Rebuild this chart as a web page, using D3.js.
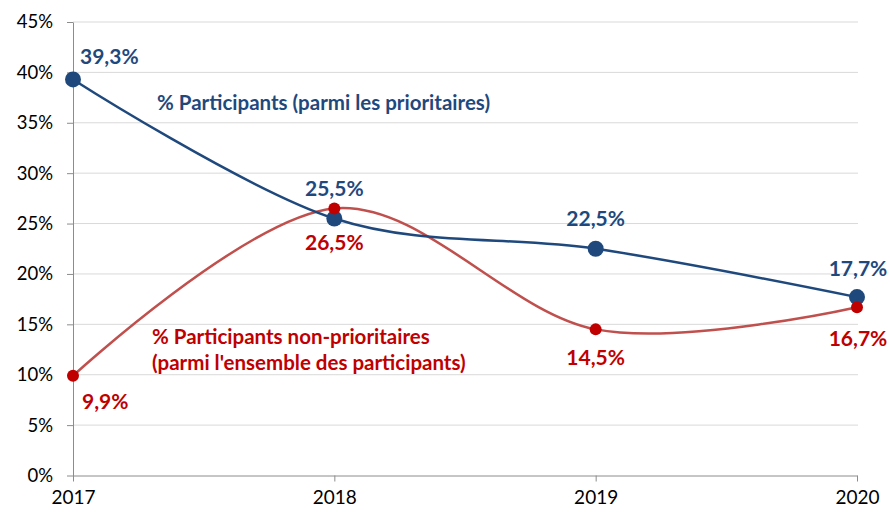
<!DOCTYPE html>
<html><head><meta charset="utf-8">
<script src="https://cdn.jsdelivr.net/npm/d3@7"></script>
<style>body{margin:0;background:#fff}svg{display:block}text{font-family:Lato,"Open Sans",sans-serif}</style>
</head><body><svg id="c" width="890" height="513"></svg>
<script>
const years = ["2017","2018","2019","2020"];
const prioritaires = [39.3, 25.5, 22.5, 17.7];
const nonPrioritaires = [9.9, 26.5, 14.5, 16.7];
const yTicks = [0,5,10,15,20,25,30,35,40,45];
const fmt = v => v.toFixed(1).replace(".", ",") + "%";

const svg = d3.select("#c");
const x = d3.scalePoint().domain(years).range([73, 857]);
const y = d3.scaleLinear().domain([0, 45]).range([475.5, 22]);

// gridlines
svg.append("g").selectAll("line").data(yTicks.filter(t=>t>0)).join("line")
  .attr("x1", 73).attr("x2", 858).attr("y1", d=>y(d)).attr("y2", d=>y(d))
  .attr("stroke", "#d9d9d9").attr("stroke-width", 1);

const yAxis = svg.append("g").attr("transform","translate(73,0)")
  .call(d3.axisLeft(y).tickValues(yTicks).tickFormat(d=>d+"%").tickSize(6).tickSizeOuter(0));
yAxis.select(".domain").attr("stroke","#8c8c8c");
yAxis.selectAll(".tick line").attr("stroke","#8c8c8c");
yAxis.selectAll(".tick text").attr("font-size","18.5px").attr("fill","#000").attr("x",-20);

const xAxis = svg.append("g").attr("transform","translate(0,475.5)")
  .call(d3.axisBottom(x).tickSize(6).tickSizeOuter(0));
xAxis.select(".domain").attr("stroke","#8c8c8c");
xAxis.selectAll(".tick line").attr("stroke","#8c8c8c");
xAxis.selectAll(".tick text").attr("font-size","19px").attr("fill","#000").attr("dy","1.05em");

const line = d3.line().x((d,i)=>x(years[i])).y(d=>y(d)).curve(d3.curveCardinal.tension(0));

svg.append("path").datum(nonPrioritaires).attr("d", line)
  .attr("fill","none").attr("stroke","#c0504d").attr("stroke-width",2.5);
svg.append("path").datum(prioritaires).attr("d", line)
  .attr("fill","none").attr("stroke","#1f497d").attr("stroke-width",2.5);

svg.append("g").selectAll("circle").data(prioritaires).join("circle")
  .attr("cx",(d,i)=>x(years[i])).attr("cy",d=>y(d)).attr("r",8).attr("fill","#1f497d");
svg.append("g").selectAll("circle").data(nonPrioritaires).join("circle")
  .attr("cx",(d,i)=>x(years[i])).attr("cy",d=>y(d)).attr("r",6).attr("fill","#c00000");

// data labels
const blueOff = [[7,-15,"start"],[0,-23,"middle"],[0,-23,"middle"],[1,-21,"middle"]];
const redOff = [[9,33,"start"],[0,42,"middle"],[0,36,"middle"],[1,38.5,"middle"]];
svg.append("g").selectAll("text").data(prioritaires).join("text")
  .attr("x",(d,i)=>x(years[i])+blueOff[i][0]).attr("y",(d,i)=>y(d)+blueOff[i][1])
  .attr("text-anchor",(d,i)=>blueOff[i][2])
  .attr("font-size","21px").attr("font-weight","bold").attr("fill","#1f497d").text(fmt);
svg.append("g").selectAll("text").data(nonPrioritaires).join("text")
  .attr("x",(d,i)=>x(years[i])+redOff[i][0]).attr("y",(d,i)=>y(d)+redOff[i][1])
  .attr("text-anchor",(d,i)=>redOff[i][2])
  .attr("font-size","21px").attr("font-weight","bold").attr("fill","#c00000").text(fmt);

// series labels
svg.append("text").attr("x",157).attr("y",110).attr("font-size","20.5px").attr("font-weight","bold")
  .attr("fill","#1f497d").text("% Participants (parmi les prioritaires)");
svg.append("text").attr("x",152).attr("y",344).attr("font-size","20.5px").attr("font-weight","bold")
  .attr("fill","#c00000").text("% Participants non-prioritaires");
svg.append("text").attr("x",152).attr("y",370).attr("font-size","20.5px").attr("font-weight","bold")
  .attr("fill","#c00000").text("(parmi l'ensemble des participants)");
</script></body></html>
